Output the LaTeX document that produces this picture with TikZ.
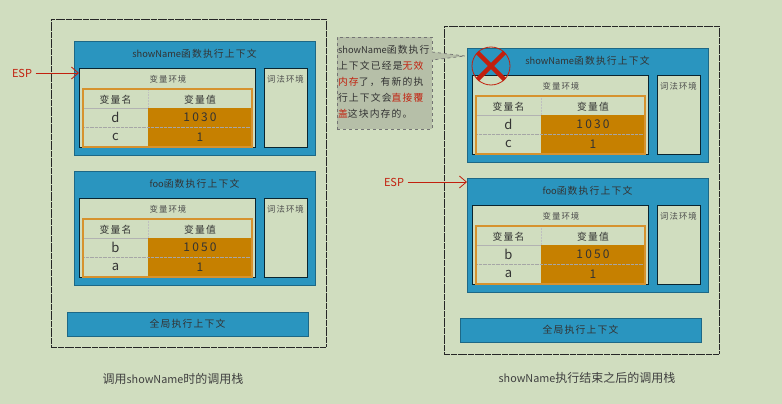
\documentclass[tikz,border=0pt]{standalone}
\usepackage{fontspec}
\setmainfont{Noto Sans CJK SC}
\newfontfamily\spaced[LetterSpace=12]{Noto Sans CJK SC}
\newfontfamily\digitwide[LetterSpace=18]{Noto Sans CJK SC}
\usetikzlibrary{arrows.meta}
\definecolor{paper}{HTML}{D0DDBF}
\definecolor{ctxblue}{HTML}{2A95BF}
\definecolor{valfill}{HTML}{C68000}
\definecolor{tabedge}{HTML}{D6922E}
\definecolor{notefill}{HTML}{B6BFA8}
\definecolor{alarm}{HTML}{C2200E}
\newcommand{\latinpart}[2][9.3]{{\rmfamily\fontsize{#1}{#1}\selectfont #2}}
\tikzset{
	boxbase/.style={anchor=north west, inner sep=0pt, outer sep=0pt},
	stackbox/.style={boxbase, draw=black!85, dash pattern=on 3pt off 0.4pt, line width=0.9pt, minimum width=275pt, minimum height=328pt},
	ctxbox/.style={boxbase, draw=ctxblue!70!black, fill=ctxblue, line width=0.5pt, minimum width=241pt, minimum height=114pt},
	globalbox/.style={boxbase, draw=ctxblue!70!black, fill=ctxblue, line width=0.5pt, minimum width=241pt, minimum height=24pt},
	envbox/.style={boxbase, draw=black!75!ctxblue, fill=paper, line width=0.7pt, minimum height=79pt},
	headcell/.style={boxbase, minimum height=21pt, text=black!80, font=\fontsize{9.8}{9.8}\spaced},
	namecell/.style={boxbase, minimum width=65pt, minimum height=19pt, text=black!80, font=\fontsize{13}{13}\selectfont},
	valcell/.style={boxbase, minimum width=104pt, minimum height=19pt, text=black!80, font=\fontsize{12}{12}\digitwide},
	smalltext/.style={font=\fontsize{8.4}{8.4}\spaced, text=black!70},
	titletext/.style={font=\fontsize{9.8}{9.8}\spaced, text=black!80},
	captiontext/.style={font=\fontsize{12}{12}\selectfont, text=black!75},
	esptext/.style={font=\fontsize{11}{11}\selectfont, text=alarm},
	esparrow/.style={draw=alarm, line width=0.8pt, -{Straight Barb[length=7pt,width=12pt]}},
}
% one execution context: prefix, x, y, title, two variables
\newcommand{\ctxframe}[8]{
	\node[ctxbox] (#1ctx) at (#2,#3) {};
	\begin{scope}[shift={(#2,#3)}]
		\node[titletext] (#1title) at (120.5,13) {#4};
		\node[envbox, minimum width=176pt] (#1env) at (5,27) {};
		\node[envbox, minimum width=43pt] (#1lex) at (190,27) {};
		\node[smalltext] (#1envname) at (94,38) {变量环境};
		\node[smalltext] (#1lexname) at (211.5,38) {词法环境};
		\node[headcell, minimum width=65pt] (#1hn) at (9,48) {变量名};
		\node[headcell, minimum width=104pt] (#1hv) at (74,48) {变量值};
		\node[namecell] (#1na) at (9,67) {#5};
		\node[valcell, fill=valfill] (#1va) at (74,67) {#6};
		\node[namecell] (#1nb) at (9,86) {#7};
		\node[valcell, fill=valfill, minimum height=20pt] (#1vb) at (74,86) {#8};
		\draw[black!30, line width=0.8pt] (9,67) -- (74,67);
		\draw[black!35, densely dotted, line width=0.3pt] (9,86) -- (178,86);
		\draw[black!25, densely dotted, line width=0.5pt] (74,48) -- (74,67);
		\draw[tabedge, line width=1.2pt] (9,48) rectangle (178,106);
	\end{scope}
}
\begin{document}
\begin{tikzpicture}[x=1pt,y=-1pt]
	\useasboundingbox[fill=paper] (0,0) rectangle (782,404);
	% left stack
	\node[stackbox] (stackA) at (51,19) {};
	\ctxframe{a}{74}{41}{\latinpart{showName}函数执行上下文}{d}{1030}{c}{1}
	\ctxframe{b}{74}{171}{\latinpart{foo}函数执行上下文}{b}{1050}{a}{1}
	\node[globalbox] (globalA) at (67,312) {};
	\node[titletext] (globalAname) at (globalA.center) {全局执行上下文};
	% right stack
	\node[stackbox] (stackB) at (444,26) {};
	\ctxframe{c}{467}{48}{\latinpart{showName}函数执行上下文}{d}{1030}{c}{1}
	\ctxframe{d}{467}{178}{\latinpart{foo}函数执行上下文}{b}{1050}{a}{1}
	\node[globalbox] (globalB) at (460,318) {};
	\node[titletext] (globalBname) at (globalB.center) {全局执行上下文};
	% ESP labels
	\node[esptext] (espA) at (22,73) {ESP};
	\node[esptext] (espB) at (394,182) {ESP};
	\draw[esparrow] (espA.east) -- (espA.east -| aenv.west);
	\draw[esparrow] (espB.east) -- (espB.east -| dctx.west);
	% note with tail
	\coordinate (tailtip) at (465,56);
	\node[boxbase, draw=black!55, dashed, fill=notefill, line width=0.7pt, minimum width=95pt, minimum height=92pt] (note) at (337,37) {};
	\draw[black!55, dashed, fill=notefill, line width=0.7pt] (432,52) -- (tailtip) -- (432,60);
	\node[boxbase, align=left, font=\fontsize{9.8}{16}\spaced, text=black!80] (notetext) at (338,45) {\latinpart{showName}函数执行\\上下文已经是\textcolor{alarm}{无效}\\\textcolor{alarm}{内存}了，有新的执\\行上下文会\textcolor{alarm}{直接覆}\\\textcolor{alarm}{盖}这块内存的。};
	% cross over the dead frame
	\node[circle, draw=alarm, line width=0.8pt, minimum size=38pt, inner sep=0pt] (cross) at (491,66) {};
	\draw[alarm, line width=4.4pt] (cross.north west) -- (cross.south east);
	\draw[alarm, line width=4.4pt] (cross.north east) -- (cross.south west);
	% captions
	\node[captiontext] (captionA) at (173,379) {调用\latinpart[10.8]{showName}时的调用栈};
	\node[captiontext] (captionB) at (587,378) {\latinpart[10.8]{showName}执行结束之后的调用栈};
\end{tikzpicture}
\end{document}
